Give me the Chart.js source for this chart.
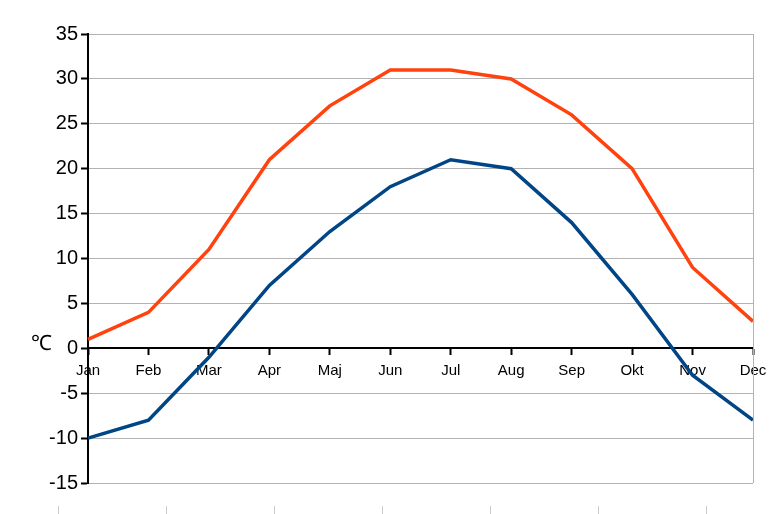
<!DOCTYPE html>
<html>
<head>
<meta charset="utf-8">
<script src="https://cdn.jsdelivr.net/npm/chart.js@4/dist/chart.umd.min.js"></script>
<style>
  body { margin: 0; background: #fff; }
  #wrap { width: 778px; height: 514px; }
</style>
</head>
<body>
<div id="wrap"><canvas id="myChart"></canvas></div>
<script>
// data
const months = ['Jan', 'Feb', 'Mar', 'Apr', 'Maj', 'Jun', 'Jul', 'Aug', 'Sep', 'Okt', 'Nov', 'Dec'];
const maxTemp = [1, 4, 11, 21, 27, 31, 31, 30, 26, 20, 9, 3];
const minTemp = [-10, -8, -1, 7, 13, 18, 21, 20, 14, 6, -3, -8];
const yMin = -15;
const yMax = 35;
const yStep = 5;
const unitLabel = '\u2103';

// extras drawn on top: right border, unit label, faint marks at the bottom
const extras = {
   id: 'extras',
   afterDraw(chart) {
      const ctx = chart.ctx;
      const area = chart.chartArea;
      const y = chart.scales.y;
      ctx.save();
      ctx.strokeStyle = '#b3b3b3';
      ctx.lineWidth = 1;
      ctx.beginPath();
      ctx.moveTo(Math.round(area.right) + 0.5, area.top);
      ctx.lineTo(Math.round(area.right) + 0.5, area.bottom);
      ctx.stroke();

      ctx.fillStyle = '#000';
      ctx.font = '21px "Liberation Sans", Arial, sans-serif';
      ctx.textAlign = 'left';
      ctx.textBaseline = 'middle';
      ctx.fillText(unitLabel, 31, y.getPixelForValue(0) - 4);

      ctx.strokeStyle = '#cccccc';
      ctx.beginPath();
      for (let x = 58; x < 778; x += 108) {
         ctx.moveTo(x + 0.5, 506);
         ctx.lineTo(x + 0.5, 514);
      }
      ctx.stroke();
      ctx.restore();
   }
};

const data = {
   labels: months,
   datasets: [{
      label: 'max',
      data: maxTemp,
      borderColor: '#ff420e',
      backgroundColor: '#ff420e',
      borderWidth: 3.5,
      pointRadius: 0,
      tension: 0
   }, {
      label: 'min',
      data: minTemp,
      borderColor: '#004586',
      backgroundColor: '#004586',
      borderWidth: 3.5,
      pointRadius: 0,
      tension: 0
   }]
};

const config = {
   type: 'line',
   data: data,
   plugins: [extras],
   options: {
      responsive: true,
      maintainAspectRatio: false,
      animation: false,
      layout: { padding: { left: 0, top: 34, right: 25, bottom: 31 } },
      plugins: {
         legend: { display: false },
         tooltip: { enabled: false }
      },
      scales: {
         x: {
            position: { y: 0 },
            offset: false,
            grid: {
               drawOnChartArea: false,
               drawTicks: true,
               tickLength: 6,
               tickWidth: 2,
               tickColor: '#000'
            },
            border: { display: true, color: '#000', width: 2 },
            ticks: {
               color: '#000',
               padding: 8,
               maxRotation: 0,
               autoSkip: false,
               font: { family: '"Liberation Sans", Arial, sans-serif', size: 15 }
            }
         },
         y: {
            min: yMin,
            max: yMax,
            afterFit(scale) { scale.width = 88; },
            grid: {
               color: ctx => (ctx.tick && ctx.tick.value === 0) ? '#000' : '#b3b3b3',
               lineWidth: 1,
               tickLength: 7,
               tickWidth: 2,
               tickColor: '#000'
            },
            border: { display: true, color: '#000', width: 2 },
            ticks: {
               stepSize: yStep,
               color: '#000',
               padding: 3,
               font: { family: '"Liberation Sans", Arial, sans-serif', size: 20 }
            }
         }
      }
   }
};

const myChart = new Chart(document.getElementById('myChart'), config);
</script>
</body>
</html>
